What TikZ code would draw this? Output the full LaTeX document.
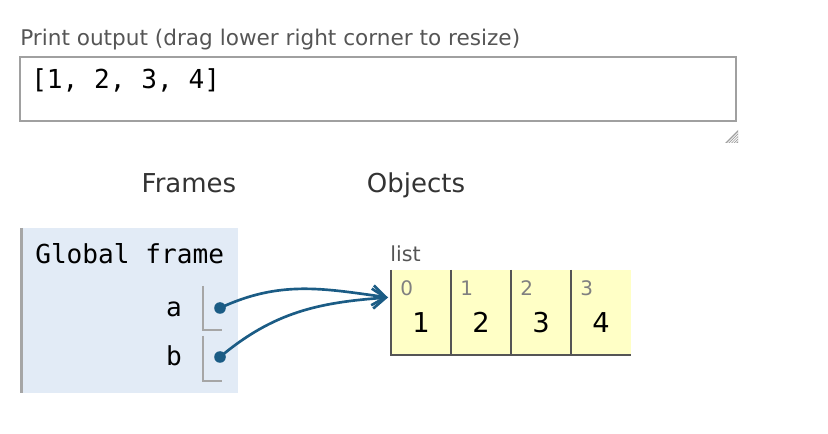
\documentclass[tikz,border=0pt]{standalone}
\usepackage{fontspec}
\setmainfont{DejaVu Sans}
\newfontfamily\codefont{DejaVu Sans Mono}
\usetikzlibrary{arrows.meta}
\definecolor{labelgrey}{HTML}{555555}
\definecolor{headgrey}{HTML}{333333}
\definecolor{boxgrey}{HTML}{A0A0A0}
\definecolor{framefill}{HTML}{E2EBF6}
\definecolor{slotgrey}{HTML}{A6A6A6}
\definecolor{ptrblue}{HTML}{1B5C85}
\definecolor{listfill}{HTML}{FFFFC6}
\definecolor{listedge}{HTML}{555555}
\definecolor{idxgrey}{HTML}{808080}
\tikzset{
  caption/.style={anchor=base west, inner sep=0pt, text=labelgrey, font=\fontsize{16.2}{19}\selectfont},
  heading/.style={anchor=base, inner sep=0pt, text=headgrey, font=\fontsize{19.5}{23}\selectfont},
  code/.style={anchor=base west, inner sep=0pt, font=\codefont\fontsize{19.6}{23}\selectfont},
  varname/.style={anchor=base east, inner sep=0pt, font=\codefont\fontsize{19.6}{23}\selectfont},
  idx/.style={anchor=base west, inner sep=0pt, text=idxgrey, font=\fontsize{15}{18}\selectfont},
  val/.style={anchor=base, inner sep=0pt, font=\fontsize{20.5}{24}\selectfont},
  ptr/.style={draw=ptrblue, line width=2pt, -{Straight Barb[length=10pt,width=15pt,line width=2pt]}},
}
\begin{document}
\begin{tikzpicture}[x=0.75pt,y=-0.75pt]
\useasboundingbox (0,0) rectangle (828,434);

% print output
\node[caption] (plabel) at (20,46) {Print output (drag lower right corner to resize)};
\draw[boxgrey, line width=1.5pt] (20,57) rectangle (736,121);
\node[code] (pout) at (31,88.5) {[1, 2, 3, 4]};
\fill[gray!75] (738,130) -- (738,143) -- (725,143) -- cycle;
\foreach \i in {1,...,4}
  \draw[white, line width=0.6pt] (738-\i*2.6,143) -- (738,143-\i*2.6);

% headings
\node[heading] (frames) at (189,192.5) {Frames};
\node[heading] (objects) at (416,192.5) {Objects};

% global frame
\fill[framefill] (20,228) rectangle (238,393);
\draw[slotgrey, line width=2.2pt] (21.5,228) -- (21.5,393);
\node[code] (gf) at (35,264) {Global frame};
\node[varname] (a) at (182,317) {a};
\node[varname] (b) at (182,366) {b};
\draw[slotgrey, line width=1.5pt] (203,286) -- (203,330.5) -- (222,330.5);
\draw[slotgrey, line width=1.5pt] (203,336) -- (203,381) -- (222,381);
\fill[ptrblue] (220,308) circle (5.8) coordinate (adot);
\fill[ptrblue] (220,357) circle (5.8) coordinate (bdot);

% list object
\node[anchor=base west, inner sep=0pt, text=labelgrey, font=\fontsize{15.5}{18}\selectfont] (lname) at (390,261.5) {list};
\foreach \v [count=\i from 0] in {1,2,3,4} {
  \fill[listfill] (391+\i*60,270) rectangle ++(60,85);
  \draw[listedge, line width=1.6pt] (391+\i*60,270) coordinate (c\i) -- ++(0,85) -- ++(60,0);
  \node[idx] (i\i) at (400+\i*60,295.5) {\i};
  \node[val] (v\i) at (421+\i*60,332.5) {\v};
}
\coordinate (tip) at (388,297.5);

% pointers
\draw[ptr] (adot) to[out=25, in=172] (tip);
\draw[ptr] (bdot) to[out=40, in=184] (tip);
\end{tikzpicture}
\end{document}
